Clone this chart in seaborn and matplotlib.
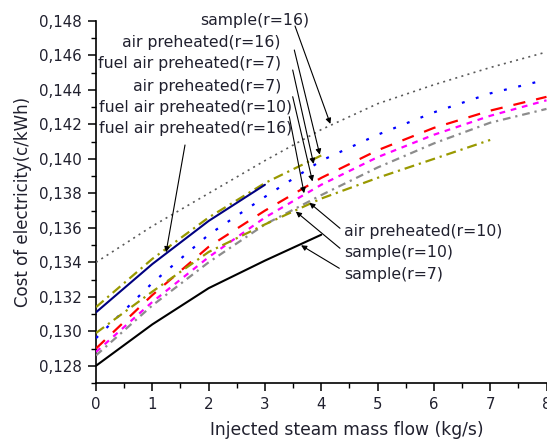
import numpy as np
import pandas as pd
import matplotlib
matplotlib.use("Agg")
import matplotlib.pyplot as plt
from matplotlib.ticker import MultipleLocator, FuncFormatter
import seaborn as sns

# Injected steam mass flow (kg/s)
x_full = [0, 1, 2, 3, 4, 5, 6, 7, 8]

# Cost of electricity (c/kWh) for each cycle configuration
sample_r16 = [0.1340, 0.1361, 0.1380, 0.1399, 0.1417, 0.1432, 0.1443, 0.1453, 0.1462]
air_pre_r16 = [0.1314, 0.1342, 0.1366, 0.1386, 0.1402]
fuel_air_pre_r7 = [0.1296, 0.1328, 0.1356, 0.1378, 0.1399, 0.1414, 0.1427, 0.1438, 0.1446]
air_pre_r7 = [0.1290, 0.1321, 0.1349, 0.1370, 0.1389, 0.1405, 0.1418, 0.1428, 0.1436]
fuel_air_pre_r10 = [0.1288, 0.1317, 0.1343, 0.1366, 0.1385, 0.1401, 0.1414, 0.1425, 0.1434]
fuel_air_pre_r16 = [0.1311, 0.1339, 0.1364, 0.1385]
air_pre_r10 = [0.1286, 0.1315, 0.1340, 0.1362, 0.1379, 0.1395, 0.1409, 0.1421, 0.1429]
sample_r10 = [0.1299, 0.1323, 0.1346, 0.1362, 0.1377, 0.1389, 0.1400, 0.1411]
sample_r7 = [0.1280, 0.1304, 0.1325, 0.1341, 0.1356]

labels = ["sample(r=16)", "air preheated(r=16)", "fuel air preheated(r=7)",
          "air preheated(r=7)", "fuel air preheated(r=10)", "fuel air preheated(r=16)",
          "air preheated(r=10)", "sample(r=10)", "sample(r=7)"]

series = [sample_r16, air_pre_r16, fuel_air_pre_r7, air_pre_r7, fuel_air_pre_r10,
          fuel_air_pre_r16, air_pre_r10, sample_r10, sample_r7]

styles = {
    "sample(r=16)": dict(color="#5a5a5a", lw=1.2, ls=(0, (1.2, 2.6))),
    "air preheated(r=16)": dict(color="#999900", lw=1.6, ls=(0, (4.5, 2.2, 1.0, 2.2))),
    "fuel air preheated(r=7)": dict(color="#0000ff", lw=1.6, ls=(0, (1.3, 5.3))),
    "air preheated(r=7)": dict(color="#ff0000", lw=1.6, ls=(0, (5.5, 5.0))),
    "fuel air preheated(r=10)": dict(color="#ff00ff", lw=1.6, ls=(0, (2.6, 2.6))),
    "fuel air preheated(r=16)": dict(color="#000080", lw=1.5, ls="-"),
    "air preheated(r=10)": dict(color="#8c8c8c", lw=1.6, ls=(0, (3.5, 2.2, 1.0, 2.2))),
    "sample(r=10)": dict(color="#999900", lw=1.6, ls=(0, (4.5, 2.2, 1.0, 2.2))),
    "sample(r=7)": dict(color="#000000", lw=1.5, ls="-"),
}

frames = []
for name, ys in zip(labels, series):
    frames.append(pd.DataFrame({"flow": x_full[:len(ys)], "cost": ys, "case": name}))
data = pd.concat(frames, ignore_index=True)

sns.set_style("ticks")
plt.rcParams["font.family"] = ["DejaVu Sans"]

W, H = 547, 441
fig = plt.figure(figsize=(W / 100, H / 100), dpi=100)
left, right, top, bottom = 96, 546.5, 21, 383
ax = fig.add_axes([left / W, 1 - bottom / H, (right - left) / W, (bottom - top) / H])

for name in labels:
    st = styles[name]
    sub = data[data["case"] == name]
    sns.lineplot(data=sub, x="flow", y="cost", ax=ax, color=st["color"],
                 linewidth=st["lw"], linestyle=st["ls"], legend=False, zorder=3)

ax.set_xlim(0, 8)
ax.set_ylim(0.127, 0.148)
ax.xaxis.set_major_locator(MultipleLocator(1))
ax.xaxis.set_minor_locator(MultipleLocator(0.5))
ax.yaxis.set_major_locator(MultipleLocator(0.002))
ax.yaxis.set_minor_locator(MultipleLocator(0.001))
ax.yaxis.set_major_formatter(FuncFormatter(lambda v, p: f"{v:.3f}".replace(".", ",")))
ax.xaxis.set_major_formatter(FuncFormatter(lambda v, p: f"{v:.0f}"))

tick_color = "#20202e"
ax.tick_params(which="major", direction="out", length=6, width=1.1, colors="black",
               labelcolor=tick_color, labelsize=10.8, pad=4)
ax.tick_params(which="minor", direction="out", length=3.5, width=1.0, colors="black")
for side in ("top", "right"):
    ax.spines[side].set_visible(False)
for side in ("left", "bottom"):
    ax.spines[side].set_linewidth(1.2)
    ax.spines[side].set_color("black")

ax.set_xlabel("Injected steam mass flow (kg/s)", fontsize=12.3, color=tick_color)
ax.set_ylabel("Cost of electricity(c/kWh)", fontsize=12, color=tick_color)
ax.xaxis.set_label_coords((346.5 - left) / (right - left), -0.105)
ax.yaxis.set_label_coords(-0.142, 0.5)


def px_to_data(px, py):
    return (px - left) / (right - left) * 8, 0.148 - (py - top) / (bottom - top) * 0.021


# Labels: (text, anchor px, alignment, arrow start px, x where the arrow meets the curve)
notes = [
    ("sample(r=16)", (309, 21), "right", (295, 26), 4.17),
    ("air preheated(r=16)", (281, 42.3), "right", (294.3, 50), 3.98),
    ("fuel air preheated(r=7)", (281, 63.4), "right", (292.7, 70), 3.87),
    ("air preheated(r=7)", (281, 86), "right", (292.7, 96.7), 3.85),
    ("fuel air preheated(r=10)", (292, 107.7), "right", (289.3, 116.7), 3.70),
    ("fuel air preheated(r=16)", (292, 128.7), "right", (185, 145), 1.24),
    ("air preheated(r=10)", (344, 231.7), "left", (340, 228.3), 3.77),
    ("sample(r=10)", (344, 252.7), "left", (340, 248.3), 3.53),
    ("sample(r=7)", (344, 274.3), "left", (339.3, 268.3), 3.62),
]

for text, (tx, ty), ha, (sx, sy), xt in notes:
    ys = series[labels.index(text)]
    tip = (xt, float(np.interp(xt, x_full[:len(ys)], ys)))
    ax.annotate("", xy=tip, xytext=px_to_data(sx, sy), annotation_clip=False,
                arrowprops=dict(arrowstyle="-|>", color="black", lw=0.8,
                                mutation_scale=8, shrinkA=0, shrinkB=1), zorder=4)
    ax.text(*px_to_data(tx, ty), text, ha=ha, va="center", fontsize=11.3,
            color=tick_color, clip_on=False, zorder=5)

fig.savefig("out.png", dpi=100)
